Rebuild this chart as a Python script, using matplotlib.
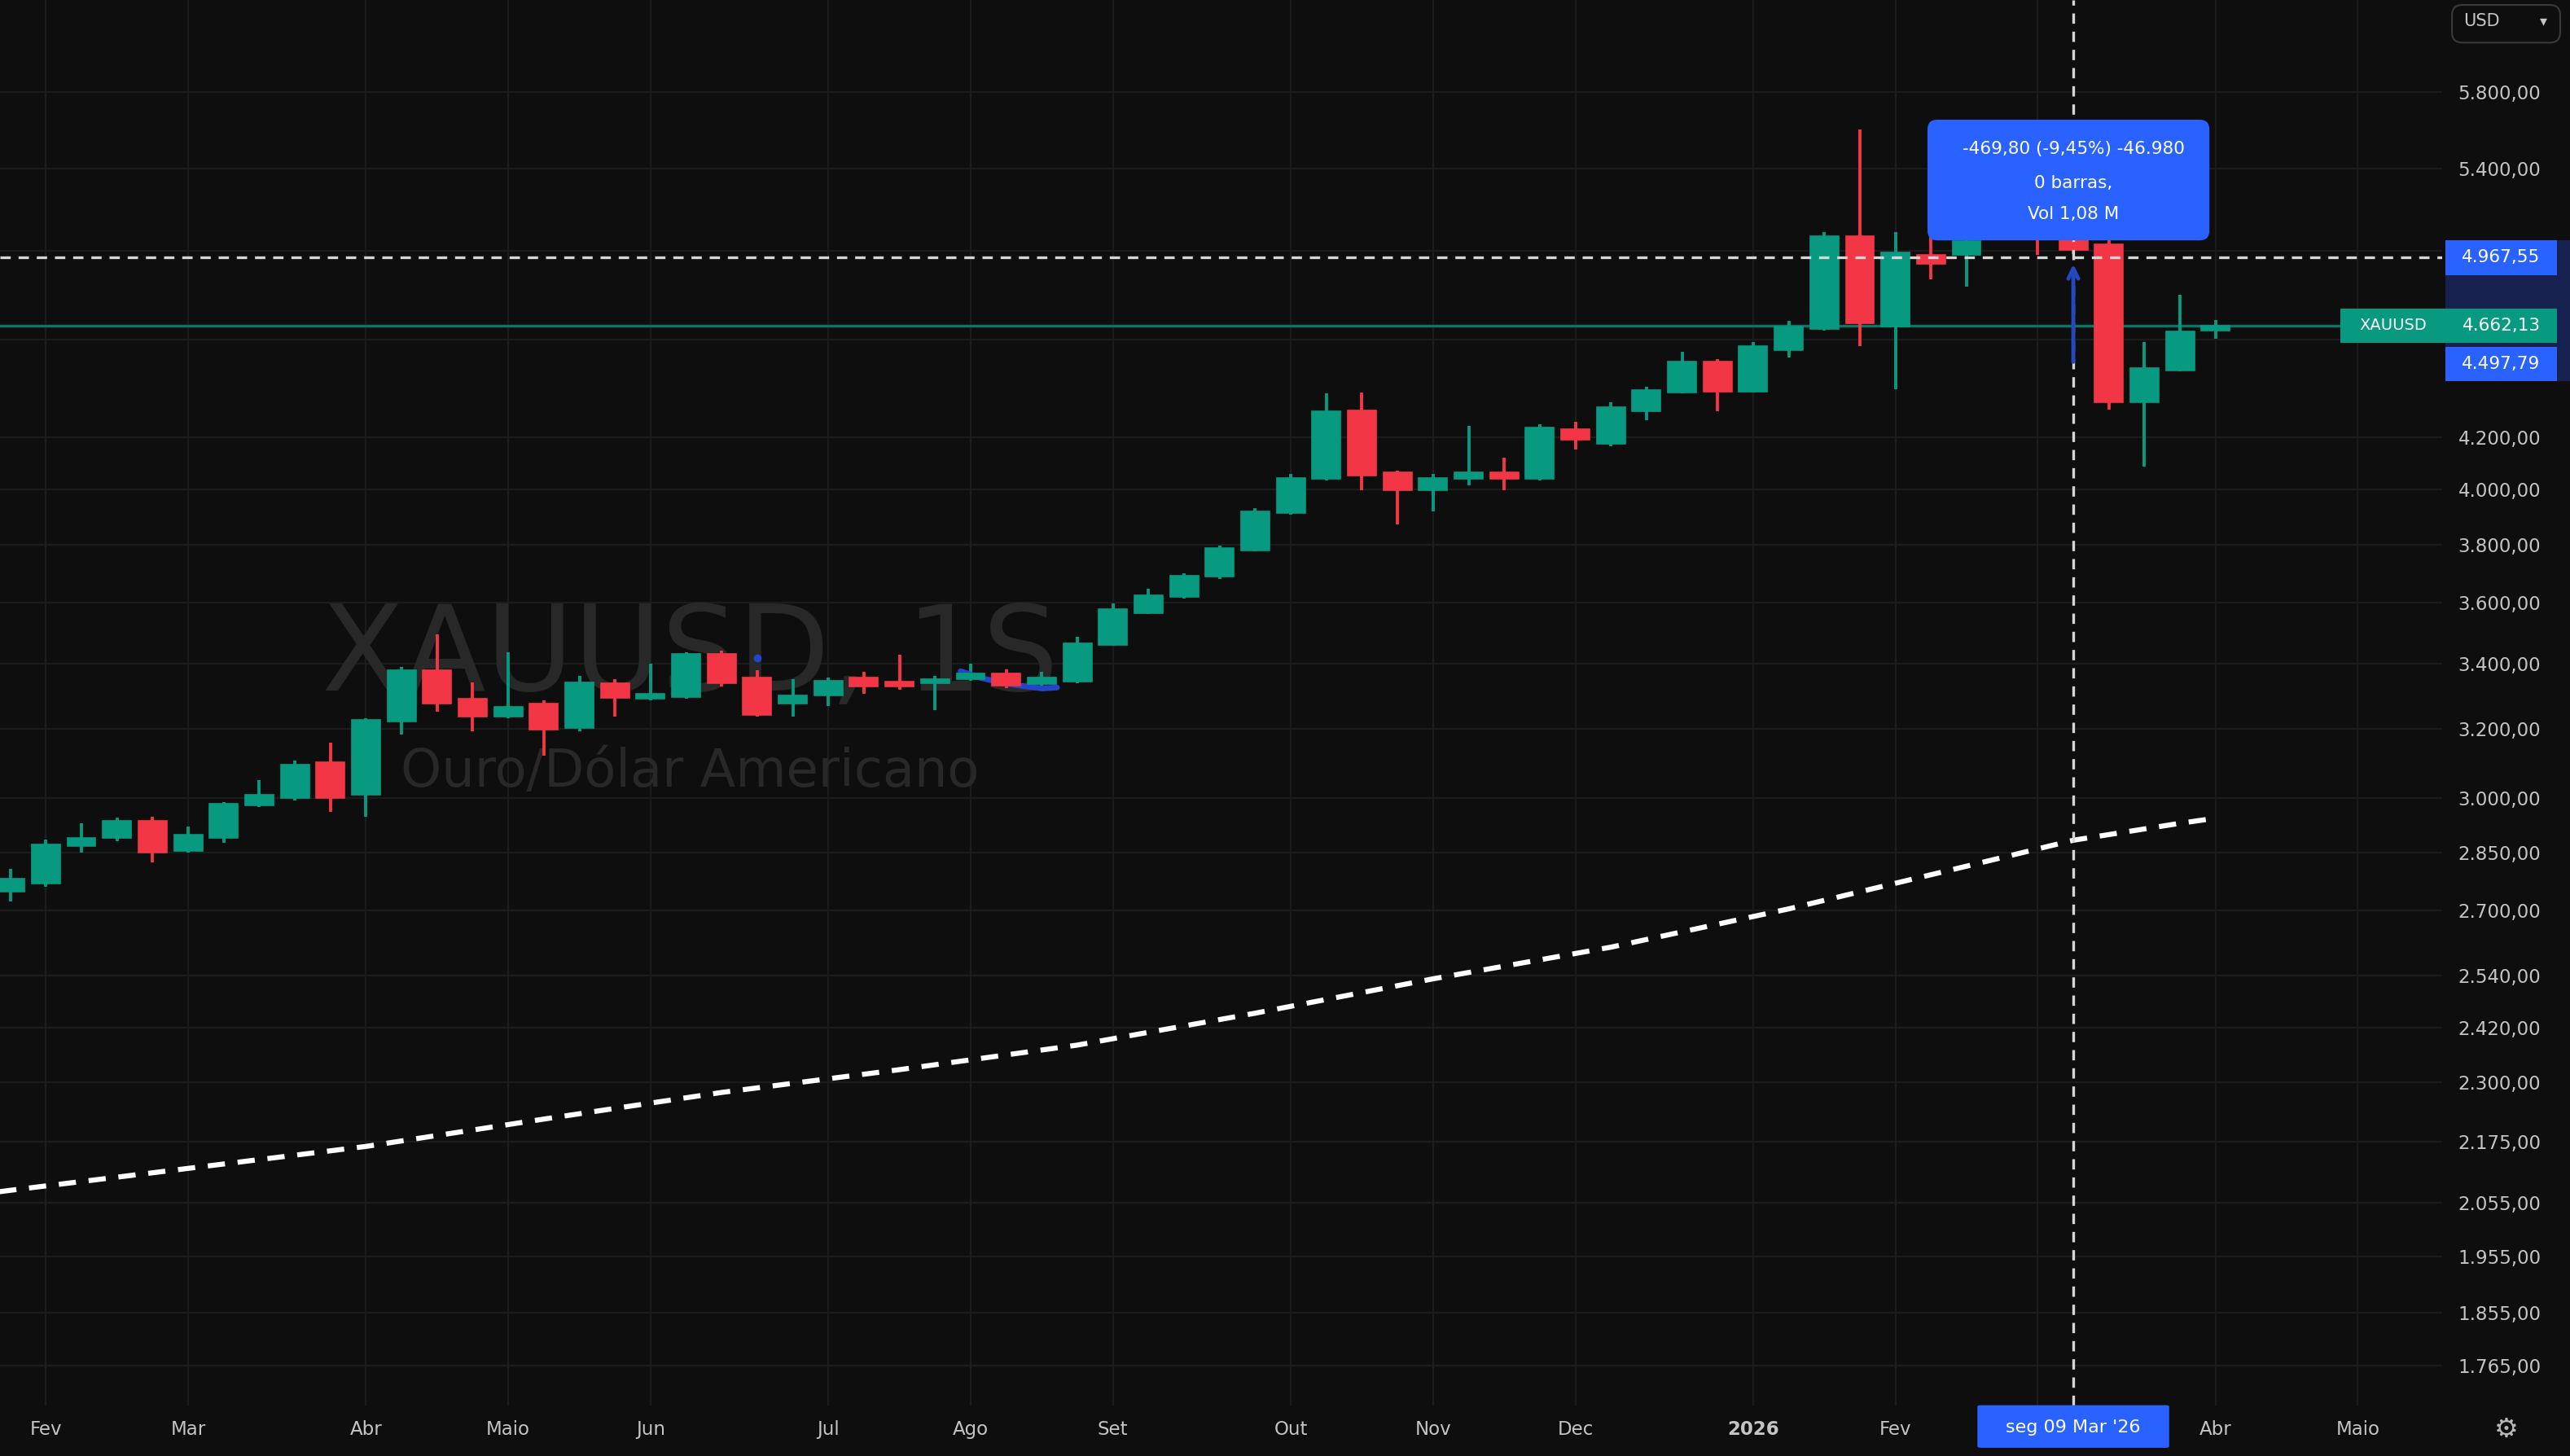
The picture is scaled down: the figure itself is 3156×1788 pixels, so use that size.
import numpy as np
import pandas as pd
import matplotlib
matplotlib.use('Agg')
import matplotlib.pyplot as plt
import matplotlib.dates as mdates
from matplotlib.patches import Rectangle, FancyBboxPatch

# XAUUSD weekly candles (1S), weeks starting 2025-01-27 .. 2026-04-06
weeks = pd.date_range('2025-01-27', periods=63, freq='W-MON')
opens = [2747, 2768, 2868, 2890, 2935, 2854, 2890, 2979, 2998, 3100,
         3007, 3222, 3378, 3291, 3236, 3276, 3202, 3339, 3291, 3296,
         3430, 3357, 3276, 3301, 3357, 3343, 3339, 3352, 3369, 3336,
         3344, 3461, 3564, 3620, 3687, 3780, 3913, 4041, 4307, 4065,
         3998, 4041, 4065, 4041, 4233, 4174, 4303, 4379, 4508, 4384,
         4557, 4647, 5067, 4659, 4979, 4979, 5054, 5180, 5090, 5030,
         4340, 4472, 4640]
highs = [2807, 2885, 2930, 2944, 2948, 2921, 2988, 3049, 3105, 3158,
         3232, 3389, 3494, 3342, 3436, 3286, 3362, 3352, 3399, 3436,
         3441, 3378, 3352, 3357, 3373, 3429, 3362, 3399, 3383, 3373,
         3486, 3597, 3645, 3698, 3796, 3931, 4060, 4376, 4379, 4072,
         4060, 4244, 4122, 4251, 4260, 4340, 4404, 4549, 4517, 4590,
         4684, 5087, 5600, 5087, 5116, 5100, 5300, 5260, 5180, 5050,
         4592, 4799, 4685]
lows = [2722, 2760, 2850, 2880, 2824, 2850, 2876, 2975, 2993, 2961,
        2948, 3182, 3251, 3192, 3232, 3120, 3192, 3236, 3285, 3291,
        3327, 3236, 3236, 3267, 3306, 3317, 3256, 3347, 3322, 3317,
        3339, 3457, 3560, 3614, 3681, 3775, 3907, 4035, 3998, 3873,
        3919, 4016, 3998, 4035, 4152, 4165, 4267, 4376, 4305, 4380,
        4526, 4640, 4575, 4394, 4867, 4836, 5050, 4982, 4985, 4310,
        4086, 4466, 4605]
closes = [2781, 2872, 2890, 2935, 2850, 2899, 2984, 3007, 3095, 2998,
          3227, 3378, 3276, 3236, 3266, 3197, 3342, 3294, 3306, 3430,
          3339, 3241, 3301, 3347, 3327, 3327, 3352, 3369, 3332, 3357,
          3465, 3577, 3625, 3692, 3789, 3919, 4044, 4305, 4052, 3998,
          4044, 4065, 4041, 4239, 4190, 4319, 4391, 4508, 4384, 4575,
          4659, 5067, 4672, 4992, 4940, 5046, 5220, 5060, 5005, 4340,
          4481, 4638, 4662.13]

# dashed moving average
ma_dates = ['2025-01-20', '2025-01-27', '2025-03-03', '2025-04-07', '2025-05-12',
            '2025-06-16', '2025-07-21', '2025-08-25', '2025-09-29', '2025-11-03',
            '2025-12-08', '2026-01-12', '2026-02-16', '2026-03-09', '2026-03-30',
            '2026-04-06']
ma_values = [2070, 2079, 2122, 2166, 2222, 2278, 2327, 2381, 2453, 2533,
             2609, 2704, 2814, 2883, 2929, 2943]

price_ticks = [5800, 5400, 5000, 4600, 4200, 4000, 3800, 3600, 3400, 3200, 3000,
               2850, 2700, 2540, 2420, 2300, 2175, 2055, 1955, 1855, 1765]
hidden_ticks = [5000, 4600]

month_dates = ['2025-02-03', '2025-03-03', '2025-04-07', '2025-05-05', '2025-06-02',
               '2025-07-07', '2025-08-04', '2025-09-01', '2025-10-06', '2025-11-03',
               '2025-12-01', '2026-01-05', '2026-02-02', '2026-03-02', '2026-04-06',
               '2026-05-04']
month_labels = ['Fev', 'Mar', 'Abr', 'Maio', 'Jun', 'Jul', 'Ago', 'Set', 'Out', 'Nov',
                'Dec', '2026', 'Fev', '', 'Abr', 'Maio']

last_price = 4662.13
cross_price = 4967.55
measure_end = 4497.79
cross_date = '2026-03-09'
blue_dot = ('2025-06-23', 3417)
scribble_dates = ['2025-08-02', '2025-08-06', '2025-08-10', '2025-08-14', '2025-08-18', '2025-08-21']
scribble_prices = [3376, 3355, 3340, 3330, 3322, 3325]

BG = '#0e0e0e'
GRID = '#1c1c1c'
UP = '#089981'
DOWN = '#f23645'
BLUE = '#2962ff'
TXT = '#c4c4c4'


def br(v):
    s = f'{v:,.2f}'
    return s.replace(',', 'X').replace('.', ',').replace('X', '.')


W, H = 1568, 888            # reference layout units
AX_R, AX_B = 1490, 857

fig = plt.figure(figsize=(31.56, 17.88), dpi=100, facecolor=BG)
ax = fig.add_axes([0, 1 - AX_B / H, AX_R / W, AX_B / H])
ax.set_facecolor(BG)
for s in ax.spines.values():
    s.set_visible(False)

x = mdates.date2num(weeks)
o = np.array(opens, float)
c = np.array(closes, float)
colors = np.where(c >= o, UP, DOWN)

ax.set_yscale('log')
start = weeks[0] - pd.Timedelta(days=2.03)
end = weeks[0] + pd.Timedelta(days=68.37 * 7)
ax.set_xlim(mdates.date2num(start), mdates.date2num(end))
ax.set_ylim(1701, 6319)

# grid
for p in price_ticks:
    ax.axhline(p, color=GRID, lw=1.6, zorder=0)
for d in month_dates:
    ax.axvline(mdates.date2num(pd.Timestamp(d)), color=GRID, lw=1.6, zorder=0)

# watermark
ax.text(0.2826, 0.532, 'XAUUSD, 1S', transform=ax.transAxes, ha='center', va='center',
        fontsize=106, color='#282828', zorder=1)
ax.text(0.2826, 0.4504, 'Ouro/Dólar Americano', transform=ax.transAxes, ha='center',
        va='center', fontsize=46, color='#282828', zorder=1)

# candles
ax.vlines(x, lows, highs, colors=colors, lw=2.8, zorder=3)
ax.bar(x, np.abs(c - o), bottom=np.minimum(o, c), width=5.6, color=colors,
       edgecolor=colors, linewidth=1.2, zorder=4)

# moving average
ax.plot(mdates.date2num(pd.to_datetime(ma_dates)), ma_values, color='white', lw=4.5,
        ls=(0, (3.4, 2.5)), zorder=3)

# last price line
ax.axhline(last_price, color='#0b7564', lw=2.4, zorder=2)

# user drawing
ax.plot(mdates.date2num(pd.to_datetime(scribble_dates)), scribble_prices, color='#2545c8',
        lw=5, solid_capstyle='round', zorder=3.5)
ax.plot(mdates.date2num(pd.Timestamp(blue_dot[0])), blue_dot[1], 'o', color='#2545c8',
        ms=6, zorder=5)

# crosshair
xc = mdates.date2num(pd.Timestamp(cross_date))
ax.axhline(cross_price, color='#d6d6d6', lw=2.4, ls=(0, (3.8, 2.9)), zorder=6)
ax.axvline(xc, color='#d6d6d6', lw=2.4, ls=(0, (3.8, 2.9)), zorder=6)
ax.annotate('', xy=(xc, cross_price * 0.996), xytext=(xc, measure_end),
            arrowprops=dict(arrowstyle='->', color='#2348c0', lw=3.5,
                            mutation_scale=22), zorder=7)

# tooltip
tip = FancyBboxPatch((1176 / AX_R, 1 - 146.6 / AX_B), 172 / AX_R, 73.6 / AX_B,
                     boxstyle='round,pad=0,rounding_size=0.004', mutation_aspect=1.74,
                     transform=ax.transAxes, fc=BLUE, ec='none', zorder=8, clip_on=False)
ax.add_patch(tip)
for txt, py in [('-469,80 (-9,45%) -46.980', 91), ('0 barras,', 111.8), ('Vol 1,08 M', 130.7)]:
    ax.text(xc, 1 - py / AX_B, txt, transform=ax.get_xaxis_transform(), ha='center',
            va='center', fontsize=15.5, color='white', zorder=9)

# axes ticks
ax.yaxis.tick_right()
ax.set_yticks(price_ticks)
ax.set_yticklabels(['' if p in hidden_ticks else br(p) for p in price_ticks])
ax.minorticks_off()
ax.tick_params(axis='y', length=0, pad=14, labelsize=16.5, labelcolor=TXT)

tick_x = [mdates.date2num(pd.Timestamp(d)) for d, l in zip(month_dates, month_labels) if l]
ax.set_xticks(tick_x)
ax.set_xticklabels([l for l in month_labels if l])
ax.tick_params(axis='x', length=0, pad=13, labelsize=16.5, labelcolor=TXT)
for lab in ax.get_xticklabels():
    if lab.get_text() == '2026':
        lab.set_fontweight('bold')

# date label of crosshair
box_days = 117 / 21.7 * 7
date_box = FancyBboxPatch((xc - box_days / 2, -26 / AX_B), box_days, 26 / AX_B,
                          boxstyle='round,pad=0,rounding_size=0.8', mutation_aspect=0.0012,
                          transform=ax.get_xaxis_transform(), fc=BLUE, ec='none',
                          zorder=8, clip_on=False)
ax.add_patch(date_box)
ax.text(xc, -13.5 / AX_B, "seg 09 Mar '26", transform=ax.get_xaxis_transform(), ha='center',
        va='center', fontsize=16, color='white', zorder=9, clip_on=False)

fig.canvas.draw()


def fig_y(price):
    return fig.transFigure.inverted().transform(ax.transData.transform((x[0], price)))[1]


BOX_H = 21 / H


def price_box(price, text, color, zorder=10):
    fy = fig_y(price)
    fig.add_artist(Rectangle((1492 / W, fy - BOX_H / 2), 68 / W, BOX_H, transform=fig.transFigure,
                             fc=color, ec='none', zorder=zorder))
    fig.text(1526 / W, fy, text, ha='center', va='center', fontsize=15.5, color='white',
             zorder=zorder + 0.5)


# measured range band on the price scale
y_top = fig_y(cross_price) + BOX_H / 2
y_bot = fig_y(measure_end) - BOX_H / 2
fig.add_artist(Rectangle((1492 / W, y_bot), 76 / W, y_top - y_bot, transform=fig.transFigure,
                         fc='#16214f', ec='none', zorder=9))
price_box(cross_price, br(cross_price), BLUE)
price_box(last_price, br(last_price), UP)
price_box(measure_end, br(measure_end), BLUE, zorder=11)

fy = fig_y(last_price)
fig.add_artist(Rectangle((1428 / W, fy - BOX_H / 2), 64 / W, BOX_H, transform=fig.transFigure,
                         fc=UP, ec='none', zorder=10))
fig.text(1460 / W, fy, 'XAUUSD', ha='center', va='center', fontsize=14, color='white',
         zorder=10.5)

# currency selector
fig.add_artist(FancyBboxPatch((1496 / W, 1 - 26 / H), 66 / W, 23 / H,
                              boxstyle='round,pad=0,rounding_size=0.004', mutation_aspect=1.77,
                              transform=fig.transFigure, fc=BG, ec='#3a3a3a', lw=1.5))
fig.text(1514 / W, 1 - 13 / H, 'USD', ha='center', va='center', fontsize=15, color=TXT)
fig.text(1552 / W, 1 - 13 / H, '▾', ha='center', va='center', fontsize=13, color=TXT)

# settings gear
fig.text(1529 / W, 1 - 872 / H, '⚙', ha='center', va='center', fontsize=24, color='#b8b8b8')

fig.savefig('out.png', dpi=100, facecolor=BG)
